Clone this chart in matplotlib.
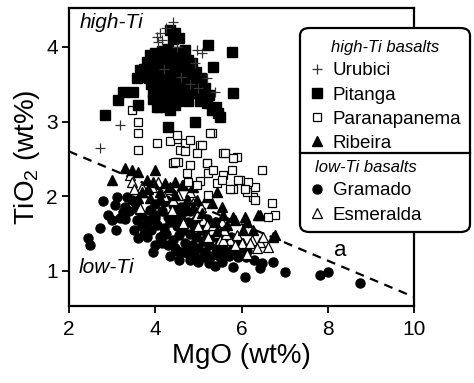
import matplotlib
matplotlib.use("Agg")
import matplotlib.pyplot as plt
from matplotlib.lines import Line2D
from matplotlib.patches import FancyBboxPatch

plt.rcParams['font.family'] = ['Liberation Sans', 'DejaVu Sans']

# ---------------- data (MgO wt%, TiO2 wt%) ----------------
gramado_mgo = [2.79, 3.11, 3.07, 3.30, 3.34, 3.00, 3.18, 3.25, 2.72, 2.44, 2.49, 3.60, 3.81, 3.58, 3.81, 4.00,
               4.18, 3.60, 3.88, 3.46, 5.39, 6.08, 6.43, 6.73, 7.01, 7.82, 8.00, 8.75, 5.11, 4.74, 4.50, 5.50,
               5.92, 6.13, 5.80, 6.48,
               3.90, 4.05, 4.20, 4.35, 4.50, 4.65, 4.80, 4.95, 5.10, 5.25, 5.40,
               4.00, 4.15, 4.30, 4.45, 4.60, 4.75, 4.90, 5.05, 5.20, 5.35, 5.50,
               4.10, 4.25, 4.40, 4.55, 4.70, 4.85, 5.00, 5.15, 5.30, 5.45, 5.60, 5.70,
               4.30, 4.45, 4.60, 4.75, 4.90,
               3.70, 3.85, 4.00, 4.20, 4.40, 4.60, 4.80, 5.00, 5.20, 5.40, 5.60, 5.75, 5.90, 6.00, 5.85, 6.10, 6.30,
               3.40, 3.55, 3.70, 3.95, 4.15,
               3.50, 3.75, 4.00, 4.35, 4.55, 4.80, 5.00, 5.25, 5.55, 5.80, 3.30, 3.10, 2.90, 4.25, 4.50,
               4.70, 4.95, 5.15, 5.35, 5.50, 5.65, 5.25]
gramado_tio2 = [1.93, 1.99, 1.88, 1.86, 1.99, 1.68, 1.71, 1.79, 1.58, 1.44, 1.35, 1.44, 1.46, 1.68, 1.66, 1.71,
                1.48, 1.82, 1.82, 1.95, 1.06, 0.92, 1.04, 1.12, 0.99, 0.95, 0.99, 0.84, 1.19, 1.24, 1.26, 1.19,
                1.18, 1.26, 1.31, 1.11,
                1.55, 1.62, 1.58, 1.65, 1.60, 1.55, 1.50, 1.45, 1.40, 1.35, 1.30,
                1.75, 1.80, 1.72, 1.78, 1.70, 1.66, 1.60, 1.55, 1.50, 1.45, 1.38,
                1.45, 1.50, 1.42, 1.48, 1.38, 1.35, 1.30, 1.25, 1.20, 1.22, 1.28, 1.20,
                1.35, 1.30, 1.25, 1.28, 1.22,
                1.75, 1.68, 1.90, 1.92, 1.88, 1.85, 1.80, 1.75, 1.70, 1.65, 1.55, 1.45, 1.40, 1.30, 1.22, 1.18, 1.15,
                1.80, 1.90, 1.60, 1.25, 1.38,
                1.55, 1.50, 1.35, 1.20, 1.15, 1.15, 1.12, 1.10, 1.12, 1.05, 1.70, 1.55, 1.75, 1.95, 1.72,
                1.80, 1.68, 1.62, 1.55, 1.50, 1.40, 1.45]

esmeralda_mgo = [3.42, 3.46, 4.07, 3.69, 3.93, 4.30, 4.53, 4.39, 4.65, 5.11, 5.32, 5.46, 5.74, 5.90, 6.04,
                 6.25, 6.43, 6.62, 6.13, 5.22, 5.50, 4.88, 5.20, 4.62, 4.81, 4.97, 3.69, 3.65, 5.57, 6.01,
                 6.20, 5.34, 5.55, 4.75, 5.05, 6.35, 5.65, 5.60, 5.85, 6.50, 4.40, 4.20, 3.50, 5.00]
esmeralda_tio2 = [2.29, 2.19, 2.19, 2.05, 2.12, 2.09, 2.02, 1.82, 1.64, 1.68, 1.55, 1.51, 1.42, 1.48, 1.38,
                  1.42, 1.39, 1.32, 1.22, 1.46, 1.42, 1.91, 1.62, 2.15, 2.06, 1.75, 2.13, 1.84, 1.42, 1.38,
                  1.38, 1.62, 1.66, 1.95, 1.85, 1.30, 1.50, 1.55, 1.35, 1.45, 1.95, 2.00, 2.10, 1.60]

ribeira_mgo = [3.00, 3.30, 3.46, 3.60, 4.00, 3.95, 4.23, 4.46, 4.65, 4.88, 3.83, 4.11, 3.60, 3.88, 4.11,
               4.46, 4.74, 4.97, 5.20, 5.43, 5.32, 5.57, 5.80, 6.08, 6.39, 6.73, 6.04, 5.67, 5.39, 5.55,
               5.09, 4.88, 4.69, 5.43, 6.27, 4.62, 3.69, 4.34, 3.81, 6.43, 6.78, 6.13, 5.85]
ribeira_tio2 = [2.22, 2.38, 2.35, 2.33, 2.35, 2.19, 2.18, 2.19, 2.15, 2.13, 2.09, 2.06, 1.98, 1.98, 1.98,
                2.02, 1.95, 1.95, 1.99, 2.05, 1.91, 1.75, 1.72, 1.72, 1.75, 1.46, 1.55, 1.62, 1.66, 1.86,
                1.78, 1.86, 1.88, 1.53, 1.55, 1.84, 2.06, 2.13, 2.22, 1.75, 1.48, 1.66, 1.68]

paranapanema_mgo = [3.46, 3.60, 3.60, 3.60, 4.04, 4.07, 5.32, 5.57, 5.90, 5.27, 5.62, 6.48, 6.71, 6.78,
                    6.62, 6.27, 6.13, 6.32, 5.97, 5.80, 5.57, 5.80, 5.20, 5.22, 5.43, 5.04, 5.22, 4.81,
                    4.53, 4.41, 4.74, 4.76, 4.97, 4.50, 4.69, 5.04, 4.34, 4.58, 4.50, 4.81, 5.09, 4.69,
                    4.97, 4.46, 5.20, 5.34, 5.78, 5.55, 5.92, 6.15, 5.74, 6.08, 6.32]
paranapanema_tio2 = [3.16, 3.00, 2.85, 2.62, 2.71, 3.18, 2.85, 2.58, 2.53, 2.84, 2.58, 2.35, 1.91, 1.75,
                     1.72, 1.99, 2.06, 2.13, 2.22, 2.09, 2.29, 2.51, 2.45, 2.31, 2.18, 2.20, 2.02, 2.42,
                     2.46, 2.45, 2.31, 2.19, 2.15, 2.76, 2.71, 2.69, 2.74, 2.62, 2.82, 2.75, 2.69, 2.60,
                     2.58, 2.46, 2.45, 2.35, 2.35, 2.22, 2.22, 2.19, 2.09, 2.09, 1.95]

pitanga_mgo = [4.35, 4.45, 4.55, 4.40,
               5.78, 5.22, 5.34, 5.80, 2.84, 3.14, 3.25, 3.49, 3.60, 4.92, 4.30, 4.34, 4.70, 3.88, 3.65,
               3.58, 5.50, 5.32, 5.04,
               4.00, 4.15, 4.30, 4.45, 4.60,
               3.80, 3.95, 4.10, 4.25, 4.40, 4.55, 4.75, 4.85,
               3.75, 3.90, 4.05, 4.20, 4.35, 4.50, 4.65, 4.80, 4.95,
               3.72, 3.85, 4.00, 4.15, 4.30, 4.45, 4.60, 4.75, 4.90, 5.05,
               3.90, 4.05, 4.20, 4.35, 4.50, 4.65, 4.85, 5.00, 5.15,
               3.95, 4.10, 4.25, 4.40, 4.55, 4.70, 4.90, 5.10, 5.25,
               3.95, 4.10, 4.30, 4.50, 4.75, 5.20, 5.40,
               4.05, 4.25, 4.45, 5.45]
pitanga_tio2 = [4.22, 4.18, 4.12, 4.10,
                3.93, 4.03, 3.73, 3.38, 3.09, 3.29, 3.40, 3.40, 3.22, 3.00, 2.92, 3.16, 3.96, 3.89, 3.69,
                3.58, 3.06, 3.16, 3.27,
                3.92, 3.95, 3.97, 3.93, 3.90,
                3.80, 3.82, 3.85, 3.83, 3.86, 3.80, 3.82, 3.78,
                3.70, 3.72, 3.68, 3.74, 3.70, 3.72, 3.68, 3.70, 3.66,
                3.60, 3.58, 3.62, 3.60, 3.58, 3.62, 3.60, 3.57, 3.60, 3.58,
                3.50, 3.48, 3.52, 3.50, 3.48, 3.50, 3.47, 3.50, 3.45,
                3.40, 3.38, 3.42, 3.40, 3.38, 3.42, 3.38, 3.37, 3.35,
                3.30, 3.28, 3.30, 3.28, 3.28, 3.25, 3.20,
                3.20, 3.20, 3.22, 3.12]

urubici_mgo = [4.41, 4.11, 4.07, 4.04, 4.16, 4.25, 4.97, 5.09, 5.20, 5.39, 4.92, 3.18, 2.72, 4.60, 4.80,
               5.00, 4.20, 4.50]
urubici_tio2 = [4.33, 4.19, 4.07, 4.13, 4.09, 4.25, 3.96, 3.92, 3.58, 3.40, 3.79, 2.96, 2.65, 3.60, 3.50,
                3.45, 3.70, 4.00]

divider_mgo = [2.0, 10.0]
divider_tio2 = [2.6, 0.65]

x_ticks = [2, 4, 6, 8, 10]
y_ticks = [1, 2, 3, 4]

# ---------------- figure ----------------
W, H = 474, 383
fig = plt.figure(figsize=(W / 100, H / 100), dpi=100)
ax = fig.add_axes([69 / W, 1 - 306 / H, (414 - 69) / W, (306 - 8) / H])

ms = 6.5
g = ax.plot(gramado_mgo, gramado_tio2, 'o', ms=ms, color='black', mec='black', ls='none', zorder=2)[0]
e = ax.plot(esmeralda_mgo, esmeralda_tio2, '^', ms=ms, mfc='white', mec='black', mew=0.9, ls='none', zorder=3)[0]
r = ax.plot(ribeira_mgo, ribeira_tio2, '^', ms=ms + 0.5, color='black', ls='none', zorder=3)[0]
p = ax.plot(paranapanema_mgo, paranapanema_tio2, 's', ms=ms - 0.5, mfc='white', mec='black', mew=0.9,
            ls='none', zorder=4)[0]
pi = ax.plot(pitanga_mgo, pitanga_tio2, 's', ms=ms + 0.5, color='black', ls='none', zorder=5)[0]
u = ax.plot(urubici_mgo, urubici_tio2, '+', ms=ms + 1, color='#333333', mew=0.9, ls='none', zorder=6)[0]

ax.plot(divider_mgo, divider_tio2, ls=(0, (4, 3)), color='black', lw=1.6, zorder=1)

ax.set_xlim(2, 10)
ax.set_ylim(0.53, 4.52)
ax.set_xticks(x_ticks)
ax.set_yticks(y_ticks)
ax.tick_params(direction='out', length=5, width=1.3, labelsize=15)
ax.tick_params(axis='x', pad=5)
ax.tick_params(axis='y', pad=3)
for s in ax.spines.values():
    s.set_linewidth(1.6)
ax.set_xlabel('MgO (wt%)', fontsize=20, labelpad=3)
ax.set_ylabel(r'TiO$_\mathregular{2}$ (wt%)', fontsize=20, labelpad=3)

ax.text(2.25, 4.33, 'high-Ti', fontsize=15, style='italic', va='center', ha='left')
ax.text(2.22, 1.05, 'low-Ti', fontsize=15, style='italic', va='center', ha='left')
ax.text(8.15, 1.27, 'a', fontsize=16, va='center', ha='left')

# ---------------- legend box ----------------
bx0, by0, bx1, by1 = 300 / W, 1 - 232 / H, 470 / W, 1 - 28 / H
box = FancyBboxPatch((bx0, by0), bx1 - bx0, by1 - by0,
                     boxstyle='round,pad=0,rounding_size=0.02', transform=fig.transFigure,
                     facecolor='white', edgecolor='black', lw=1.6, zorder=10)
fig.patches.append(box)
fig.add_artist(Line2D([bx0, bx1], [1 - 153 / H, 1 - 153 / H], transform=fig.transFigure,
                      color='black', lw=1.6, zorder=11))

common = dict(frameon=False, fontsize=13.5, handlelength=0.7, handletextpad=0.5,
              labelspacing=0.38, borderpad=0, borderaxespad=0, alignment='center')
leg1 = fig.legend([u, pi, p, r], ['Urubici', 'Pitanga', 'Paranapanema', 'Ribeira'],
                  loc='upper left', bbox_to_anchor=(310 / W, 1 - 40 / H),
                  title='high-Ti basalts', title_fontproperties={'size': 12, 'style': 'italic'}, **common)
leg2 = fig.legend([g, e], ['Gramado', 'Esmeralda'],
                  loc='upper left', bbox_to_anchor=(310 / W, 1 - 160 / H),
                  title='low-Ti basalts', title_fontproperties={'size': 12, 'style': 'italic'}, **common)
for lg in (leg1, leg2):
    lg.set_zorder(12)

fig.savefig('out.png', dpi=100, facecolor='white')
